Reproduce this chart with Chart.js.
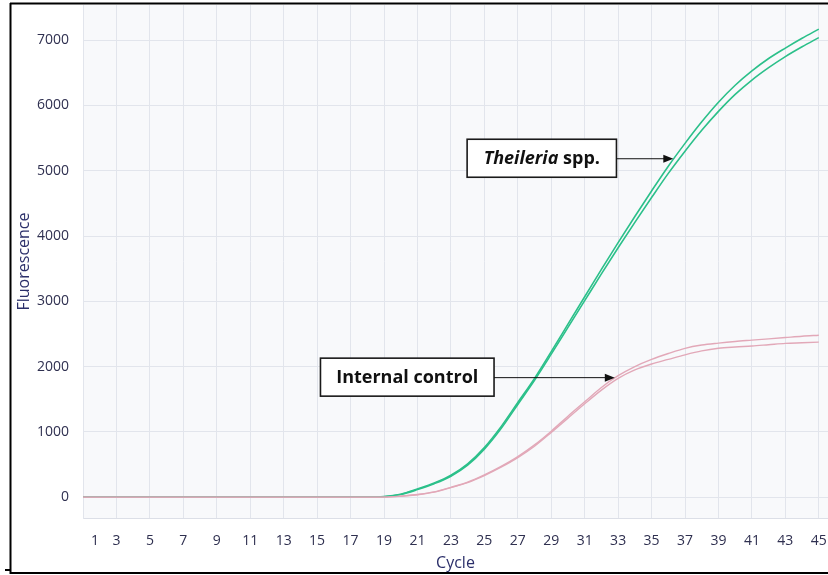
<!DOCTYPE html>
<html><head><meta charset="utf-8">
<script src="https://cdn.jsdelivr.net/npm/chart.js@4.4.1/dist/chart.umd.min.js"></script>
<style>
html,body{margin:0;padding:0;background:#fff;}
#wrap{position:relative;width:828px;height:575px;}
</style></head><body>
<div id="wrap"><canvas id="c" width="828" height="575"></canvas></div>
<script>
// ---- data ----
const cycles = [1,2,3,4,5,6,7,8,9,10,11,12,13,14,15,16,17,18,19,20,21,22,23,24,25,26,27,28,29,30,31,32,33,34,35,36,37,38,39,40,41,42,43,44,45];
const theileriaA = [0,0,0,0,0,0,0,0,0,0,0,0,0,0,0,0,0,0,8,45,125,215,335,510,760,1080,1450,1820,2230,2650,3070,3490,3900,4300,4690,5070,5420,5750,6050,6310,6530,6720,6880,7030,7170];
const theileriaB = [0,0,0,0,0,0,0,0,0,0,0,0,0,0,0,0,0,0,6,40,115,205,320,490,735,1050,1420,1790,2190,2600,3010,3420,3820,4210,4590,4960,5300,5620,5910,6170,6390,6580,6750,6900,7040];
const controlA = [0,0,0,0,0,0,0,0,0,0,0,0,0,0,0,0,0,0,0,15,40,80,150,230,340,470,620,800,1010,1240,1460,1680,1860,2000,2110,2200,2280,2330,2360,2385,2405,2425,2445,2465,2480];
const controlB = [0,0,0,0,0,0,0,0,0,0,0,0,0,0,0,0,0,0,0,13,37,76,145,222,330,458,605,780,990,1210,1430,1640,1820,1950,2040,2110,2180,2240,2280,2300,2315,2335,2355,2365,2375];
const xTickValues = [1,3,5,7,9,11,13,15,17,19,21,23,25,27,29,31,33,35,37,39,41,43,45];
const yTickValues = [0,1000,2000,3000,4000,5000,6000,7000];
const xTitle = 'Cycle';
const yTitle = 'Fluorescence';
const notes = [
  {parts: [['Theileria', 'italic bold'], [' spp.', 'bold']], from: 23.97, to: 32.9, value: 5192, tip: 36.3},
  {parts: [['Internal control', 'bold']], from: 15.2, to: 25.58, value: 1838, tip: 32.8}
];

const pts = arr => arr.map((v, i) => ({x: cycles[i], y: v}));
const GREEN = '#2bc08a';
const PINK = '#e2a8b8';
const FONT = "'Open Sans', 'Noto Sans', sans-serif";

const bgPlugin = {
  id: 'bg',
  beforeDraw(chart) {
    const {ctx, chartArea: a} = chart;
    ctx.save();
    ctx.fillStyle = '#f8f9fb';
    ctx.fillRect(a.left, a.top, a.right - a.left, a.bottom - a.top);
    ctx.restore();
  }
};

const notePlugin = {
  id: 'notes',
  afterDatasetsDraw(chart) {
    const {ctx, scales: {x, y}} = chart;
    ctx.save();
    notes.forEach(n => {
      const l = x.getPixelForValue(n.from), r = x.getPixelForValue(n.to);
      const cy = y.getPixelForValue(n.value);
      const tip = x.getPixelForValue(n.tip);
      const h = 38;
      ctx.fillStyle = '#ffffff';
      ctx.fillRect(l, cy - h / 2, r - l, h);
      ctx.strokeStyle = '#1a1a1a';
      ctx.lineWidth = 1.6;
      ctx.strokeRect(l, cy - h / 2, r - l, h);
      let total = 0;
      n.parts.forEach(p => { ctx.font = p[1] + ' 18px ' + FONT; total += ctx.measureText(p[0]).width; });
      let tx = (l + r) / 2 - total / 2;
      ctx.fillStyle = '#111111';
      ctx.textBaseline = 'middle';
      ctx.textAlign = 'left';
      n.parts.forEach(p => { ctx.font = p[1] + ' 18px ' + FONT; ctx.fillText(p[0], tx, cy + 1); tx += ctx.measureText(p[0]).width; });
      ctx.strokeStyle = '#111111';
      ctx.lineWidth = 1;
      ctx.beginPath();
      ctx.moveTo(r, cy + 0.5);
      ctx.lineTo(tip - 8, cy + 0.5);
      ctx.stroke();
      ctx.fillStyle = '#111111';
      ctx.beginPath();
      ctx.moveTo(tip, cy + 0.5);
      ctx.lineTo(tip - 10, cy - 3.5);
      ctx.lineTo(tip - 10, cy + 4.5);
      ctx.closePath();
      ctx.fill();
    });
    ctx.restore();
  },
  afterDraw(chart) {
    const ctx = chart.ctx;
    ctx.save();
    ctx.strokeStyle = '#000000';
    ctx.lineWidth = 2;
    ctx.beginPath();
    ctx.moveTo(10, 3.5); ctx.lineTo(828, 3.5);
    ctx.moveTo(10.5, 3); ctx.lineTo(10.5, 574);
    ctx.moveTo(10, 573); ctx.lineTo(828, 573);
    ctx.moveTo(5, 570); ctx.lineTo(10, 570);
    ctx.stroke();
    ctx.restore();
  }
};

const lineDs = (data, color, w) => ({
  data: pts(data), borderColor: color, borderWidth: w, pointRadius: 0,
  cubicInterpolationMode: 'monotone', fill: false
});

new Chart(document.getElementById('c'), {
  type: 'line',
  data: {
    datasets: [
      lineDs(controlA, PINK, 1.4), lineDs(controlB, PINK, 1.4),
      lineDs(theileriaA, GREEN, 1.6), lineDs(theileriaB, GREEN, 1.6)
    ]
  },
  options: {
    responsive: false, animation: false, devicePixelRatio: 1,
    layout: {padding: {top: 5, right: 0, bottom: 0, left: 0}},
    plugins: {legend: {display: false}, tooltip: {enabled: false}},
    scales: {
      x: {
        type: 'linear', min: 1, max: 45.55,
        afterBuildTicks: s => { s.ticks = xTickValues.map(v => ({value: v})); },
        afterFit: s => { s.height = 57; s.paddingLeft = 0; s.paddingRight = 0; },
        ticks: {
          autoSkip: false, maxRotation: 0, padding: 15, color: '#2f3050',
          font: {family: FONT, size: 14},
          callback: v => v === 1 ? '\u2007\u2007\u20071' : String(v)
        },
        grid: {color: '#e2e5ec', drawTicks: false},
        border: {color: '#dcdfe7'},
        title: {display: true, text: xTitle, color: '#2b2f6a', font: {family: FONT, size: 16}, padding: {top: 0, bottom: 2}}
      },
      y: {
        type: 'linear', min: -320, max: 7540,
        afterBuildTicks: s => { s.ticks = yTickValues.map(v => ({value: v})); },
        afterFit: s => { s.width = 83; s.paddingTop = 0; s.paddingBottom = 0; },
        ticks: {padding: 14, color: '#2f3050', font: {family: FONT, size: 14}, callback: v => String(v)},
        grid: {color: '#e2e5ec', drawTicks: false},
        border: {color: '#e2e5ec'},
        title: {display: true, text: yTitle, color: '#2b2f6a', font: {family: FONT, size: 16}, padding: {top: 15, bottom: 0}}
      }
    }
  },
  plugins: [bgPlugin, notePlugin]
});
</script>
</body></html>
